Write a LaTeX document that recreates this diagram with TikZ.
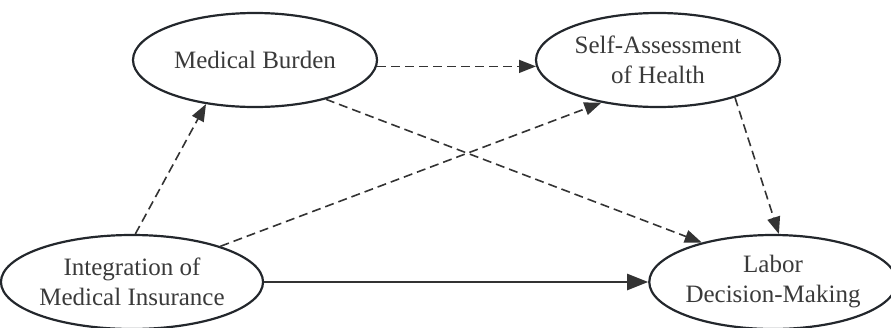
\documentclass[tikz,border=0pt]{standalone}
\usepackage{fontspec}
\setmainfont{Liberation Serif}
\usetikzlibrary{shapes.geometric,arrows.meta}
\definecolor{edgecol}{HTML}{333333}
\definecolor{bordercol}{HTML}{23272C}
\definecolor{textcol}{HTML}{3A3A3A}
\begin{document}
\begin{tikzpicture}[x=1pt,y=1pt,
  var/.style={ellipse, draw=bordercol, line width=2.2pt, minimum width=244pt, minimum height=94pt, inner sep=0pt, align=center, font=\fontsize{25}{30}\selectfont, text=textcol},
  link/.style={draw=edgecol, line width=1.6pt, dash pattern=on 9pt off 5pt, -{Triangle[length=17pt,width=13pt]}},
  mainlink/.style={draw=edgecol, line width=2.6pt, -{Triangle[length=21pt,width=16pt]}}]
\useasboundingbox (0,0) rectangle (891,-327);
\node[var] (mb) at (255,-60) {Medical Burden};
\node[var] (sa) at (658,-60) {Self-Assessment\\of Health};
\node[var] (im) at (132,-282) {Integration of\\Medical Insurance};
\node[var, minimum width=232pt] (ld) at (773,-282) {Labor\\Decision-Making};
\draw[link] (im.86) -- (mb.222);
\draw[link] (im.22) -- (sa.217);
\draw[link] (mb.-3) -- (sa.183);
\draw[link] (mb.-29) -- (ld.151);
\draw[link] (sa.-26) -- (ld.83);
\draw[mainlink] (im.east) -- (ld.west);
\end{tikzpicture}
\end{document}
